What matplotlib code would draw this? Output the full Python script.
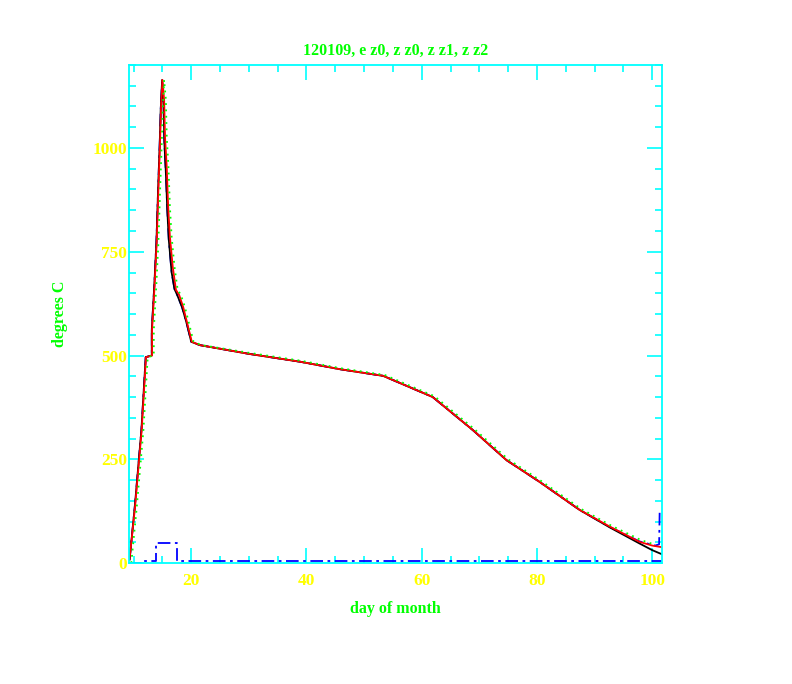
import matplotlib
matplotlib.use("Agg")
import matplotlib.pyplot as plt
from matplotlib.ticker import MultipleLocator

# readings taken off the chart (day of month, degrees C)
red_x = [9.3, 10.25, 11.4, 12.15, 13.2, 13.2, 13.6, 14.0, 14.3, 14.6, 14.75, 15.0,
         15.3, 15.45, 15.75, 16.0, 16.3, 16.8, 17.35, 17.9, 18.6, 19.3, 20.1, 21.5,
         30.0, 38.9, 45.8, 53.3, 61.9, 68.9, 74.7, 80.4, 87.4, 92.6, 97.8, 100.0, 101.7]
red_y = [10, 135, 320, 496, 500, 561, 658, 771, 899, 1019, 1092, 1164,
         1116, 1027, 954, 858, 786, 713, 658, 646, 617, 578, 533, 525,
         504, 485, 467, 451, 400, 320, 248, 196, 128, 88, 51, 42, 38]

black_x = [9.3, 10.2, 11.35, 12.1, 13.15, 13.15, 13.55, 13.95, 14.25, 14.55, 14.7, 14.95,
           15.2, 15.35, 15.6, 15.85, 16.1, 16.6, 17.1, 17.5, 18.4, 19.2, 20.0, 21.5,
           30.0, 38.9, 45.8, 53.3, 61.9, 68.9, 74.7, 80.4, 87.4, 92.6, 97.8, 100.0, 101.7]
black_y = [8, 135, 320, 496, 500, 561, 658, 771, 899, 1019, 1092, 1164,
           1100, 1010, 940, 850, 780, 700, 660, 648, 617, 578, 533, 525,
           504, 485, 467, 451, 400, 320, 248, 196, 128, 86, 47, 31, 21]

green_x = [9.6, 10.55, 11.7, 12.45, 13.5, 13.5, 13.9, 14.3, 14.6, 14.9, 15.05, 15.3,
           15.6, 15.75, 16.05, 16.3, 16.6, 17.1, 17.65, 18.2, 18.9, 19.6, 20.4, 21.8,
           30.3, 39.2, 46.1, 53.6, 62.2, 69.2, 75.0, 80.7, 87.7, 92.9, 98.1, 100.3]
green_y = [0, 135, 320, 496, 500, 561, 658, 771, 899, 1019, 1092, 1164,
           1116, 1027, 954, 858, 786, 713, 658, 646, 617, 578, 533, 525,
           506, 487, 469, 453, 402, 322, 250, 198, 130, 90, 55, 45]

blue_x = [9.3, 10.2, 11.35, 12.1, 13.15, 13.15, 13.55, 13.95, 14.25, 14.55, 14.7, 14.95,
          15.2, 15.35, 15.6, 15.85, 16.1, 16.6, 17.1, 17.5, 18.4, 19.2, 20.0, 21.5,
          30.0, 38.9, 45.8, 53.3, 61.9, 68.9, 74.7, 80.4, 87.4, 92.6, 97.8, 100.5, 101.2, 101.3]
blue_y = [8, 135, 320, 496, 500, 561, 658, 771, 899, 1019, 1092, 1164,
          1100, 1010, 940, 850, 780, 700, 660, 648, 617, 578, 533, 525,
          504, 485, 467, 451, 400, 320, 248, 196, 128, 87, 52, 42, 45, 128]

base_x = [9.2, 11.8, 11.8, 13.9, 13.9, 17.6, 17.6, 101.7]
base_y = [0, 0, 4, 4, 47, 47, 4, 4]

cyan = "#00ffff"
green = "#00ff00"
yellow = "#ffff00"
tick_font = {"family": "Liberation Serif", "weight": "bold", "size": 12.5}
text_font = {"family": "Liberation Serif", "weight": "bold", "size": 11.5}

fig = plt.figure(figsize=(7.92, 6.84), dpi=100)
ax = fig.add_axes([129 / 792, (684 - 563) / 684, 533 / 792, 498 / 684])

ax.plot(base_x, base_y, color="blue", lw=1.3, dashes=(7, 2.5, 1.5, 2.5))
ax.plot(blue_x, blue_y, color="blue", lw=1.3, dashes=(7, 2.5, 1.5, 2.5))
ax.plot(black_x, black_y, color="black", lw=1.3)
ax.plot(red_x, red_y, color="red", lw=1.3)
ax.plot(green_x, green_y, color=green, lw=1.3, linestyle=(0, (1, 2.5)))

ax.set_xlim(9.2, 101.7)
ax.set_ylim(0, 1200)
ax.xaxis.set_major_locator(MultipleLocator(20))
ax.xaxis.set_minor_locator(MultipleLocator(5))
ax.yaxis.set_major_locator(MultipleLocator(250))
ax.yaxis.set_minor_locator(MultipleLocator(50))

for s in ax.spines.values():
    s.set_color(cyan)
    s.set_linewidth(1.3)
ax.tick_params(which="both", direction="in", top=True, right=True, color=cyan, width=1.2)
ax.tick_params(which="major", length=11)
ax.tick_params(which="minor", length=5)
ax.tick_params(axis="x", pad=7)
ax.tick_params(axis="y", pad=1.5)
for lab in ax.get_xticklabels() + ax.get_yticklabels():
    lab.set_fontproperties(tick_font)
    lab.set_color(yellow)

ax.set_title("120109, e z0, z z0, z z1, z z2", color=green, pad=7, **text_font)
ax.set_xlabel("day of month", color=green, **text_font)
ax.set_ylabel("degrees C", color=green, **text_font)
ax.xaxis.set_label_coords(0.499, -0.077)
ax.yaxis.set_label_coords(-0.115, 0.5)

fig.savefig("out.png", dpi=100)
